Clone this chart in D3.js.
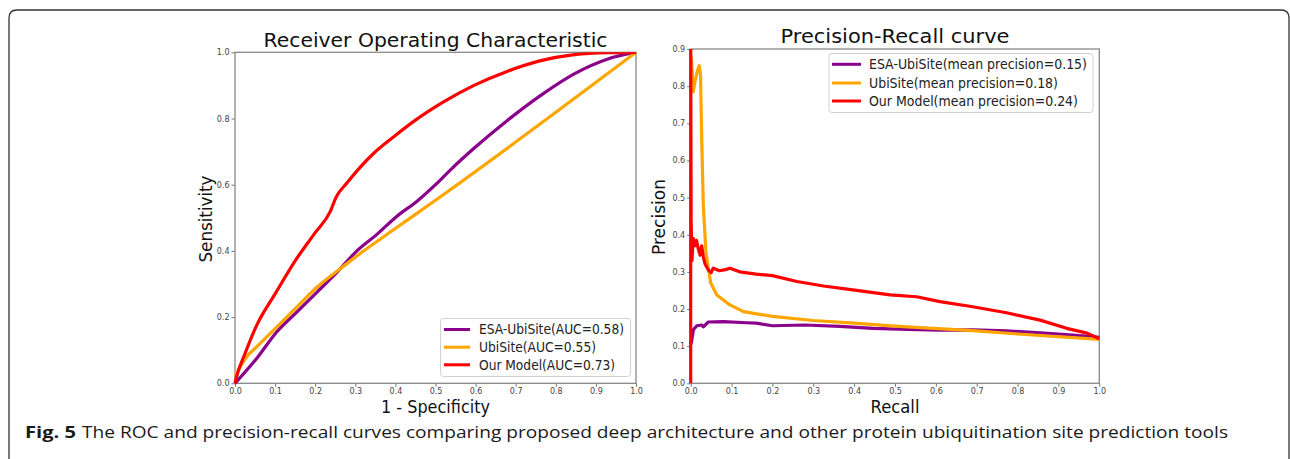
<!DOCTYPE html>
<html>
<head>
<meta charset="utf-8">
<script src="https://cdn.jsdelivr.net/npm/d3@7"></script>
<style>
  body { margin: 0; background: #fff; }
  svg { display: block; font-family: "DejaVu Sans", sans-serif; }
  .axis path { display: none; }
  .axis line { stroke: #555; stroke-width: 0.8; }
  .axis text { fill: #444; font-size: 8px; font-family: "DejaVu Sans", sans-serif; }
  .frame { fill: none; stroke: #888; stroke-width: 1.3; }
  .curve { fill: none; stroke-width: 3.2; stroke-linejoin: round; }
</style>
</head>
<body>
<svg width="1290" height="459"></svg>
<script>
const seriesNames = ["ESA-UbiSite", "UbiSite", "Our Model"];
const seriesColors = ["#8b008b", "#ffa500", "#ff0000"];
const rocLabels = ["ESA-UbiSite(AUC=0.58)", "UbiSite(AUC=0.55)", "Our Model(AUC=0.73)"];
const prLabels = ["ESA-UbiSite(mean precision=0.15)", "UbiSite(mean precision=0.18)", "Our Model(mean precision=0.24)"];

const xTicks = [0, 0.1, 0.2, 0.3, 0.4, 0.5, 0.6, 0.7, 0.8, 0.9, 1.0];
const rocYTicks = [0, 0.2, 0.4, 0.6, 0.8, 1.0];
const prYTicks = [0, 0.1, 0.2, 0.3, 0.4, 0.5, 0.6, 0.7, 0.8, 0.9];

// ROC: [1 - specificity, sensitivity]
const rocEsa = [[0,0],[0.054,0.075],[0.104,0.155],[0.154,0.215],[0.204,0.275],[0.254,0.335],[0.2625,0.346],
  [0.304,0.40],[0.354,0.45],[0.404,0.505],[0.454,0.55],[0.5,0.60],[0.5375,0.645],[0.596,0.71],[0.68,0.795],
  [0.7625,0.87],[0.846,0.935],[0.93,0.98],[1,1]];
const rocUbi = [[0,0.02],[0.029,0.08],[0.054,0.11],[0.104,0.17],[0.154,0.23],[0.204,0.29],[0.2625,0.346],
  [0.304,0.385],[0.3875,0.457],[0.5,0.553],[1,1]];
const rocOur = [[0,0],[0.004,0.02],[0.025,0.09],[0.054,0.175],[0.1,0.27],[0.15,0.37],[0.2,0.455],
  [0.238,0.52],[0.252,0.562],[0.279,0.605],[0.346,0.695],[0.396,0.745],[0.45,0.795],[0.52,0.85],
  [0.596,0.9],[0.68,0.943],[0.76,0.974],[0.846,0.993],[0.93,0.999],[1,1]];

// PR: [recall, precision]
const prEsa = [[0,0.105],[0.002,0.112],[0.0065,0.144],[0.015,0.155],[0.027,0.157],[0.031,0.152],[0.043,0.165],
  [0.08,0.166],[0.137,0.163],[0.16,0.162],[0.2,0.155],[0.28,0.157],[0.365,0.153],[0.447,0.148],[0.53,0.145],
  [0.61,0.143],[0.69,0.144],[0.773,0.141],[0.855,0.136],[0.936,0.13],[1,0.124]];
const prUbi = [[0,0.88],[0.002,0.87],[0.0065,0.785],[0.011,0.815],[0.016,0.84],[0.021,0.855],[0.024,0.83],
  [0.027,0.655],[0.031,0.476],[0.0375,0.35],[0.049,0.27],[0.064,0.238],[0.096,0.211],[0.129,0.193],[0.2,0.18],
  [0.3,0.169],[0.4,0.162],[0.5,0.154],[0.594,0.148],[0.69,0.142],[0.81,0.132],[1,0.118]];
const prOur = [[0,0],[0,0.95],[0.001,0.44],[0.003,0.33],[0.006,0.39],[0.01,0.37],[0.014,0.385],[0.019,0.36],
  [0.023,0.345],[0.027,0.37],[0.031,0.34],[0.035,0.322],[0.043,0.305],[0.05,0.298],[0.055,0.31],[0.07,0.303],
  [0.085,0.306],[0.096,0.31],[0.12,0.3],[0.16,0.294],[0.2,0.29],[0.26,0.274],[0.325,0.262],[0.406,0.25],
  [0.488,0.238],[0.553,0.233],[0.61,0.22],[0.69,0.206],[0.773,0.19],[0.855,0.17],[0.92,0.148],[0.97,0.135],[1,0.12]];

const svg = d3.select("svg");

// figure border, open at the bottom
svg.append("path")
  .attr("d", "M9,470 L9,18 Q9,10 17,10 L1281,10 Q1289,10 1289,18 L1289,470")
  .attr("fill", "none").attr("stroke", "#333").attr("stroke-width", 1.3);

function fitText(sel, w) {
  sel.attr("textLength", w).attr("lengthAdjust", "spacingAndGlyphs");
}

function panel(o) {
  const x = d3.scaleLinear().domain([0, 1]).range([o.left, o.right]);
  const y = d3.scaleLinear().domain([0, o.ymax]).range([o.bottom, o.top]);
  const g = svg.append("g");
  const id = "clip" + o.id;
  svg.append("clipPath").attr("id", id).append("rect")
    .attr("x", o.left - 2).attr("y", o.top).attr("width", o.right - o.left + 4).attr("height", o.bottom - o.top + 2);

  g.append("g").attr("class", "axis").attr("transform", `translate(0,${o.bottom})`)
    .call(d3.axisBottom(x).tickValues(xTicks).tickFormat(d3.format(".1f")).tickSize(3.5).tickPadding(2));
  g.append("g").attr("class", "axis").attr("transform", `translate(${o.left},0)`)
    .call(d3.axisLeft(y).tickValues(o.yTicks).tickFormat(d3.format(".1f")).tickSize(3.5).tickPadding(2));

  g.append("rect").attr("class", "frame")
    .attr("x", o.left).attr("y", o.top).attr("width", o.right - o.left).attr("height", o.bottom - o.top);

  const curves = g.append("g").attr("clip-path", `url(#${id})`);
  o.data.forEach((d, i) => {
    const line = d3.line().x(p => x(p[0])).y(p => y(p[1])).curve(o.curve || d3.curveLinear);
    curves.append("path").attr("class", "curve").attr("d", line(d)).attr("stroke", seriesColors[i]);
  });

  // title and axis labels
  g.append("text").attr("x", (o.left + o.right) / 2).attr("y", o.titleY)
    .attr("text-anchor", "middle").attr("font-size", 20).attr("fill", "#111")
    .text(o.title).call(fitText, o.titleW);
  g.append("text").attr("x", (o.left + o.right) / 2).attr("y", 413)
    .attr("text-anchor", "middle").attr("font-size", 17.5).attr("fill", "#111")
    .text(o.xLabel).call(fitText, o.xLabelW);
  g.append("text").attr("transform", `translate(${o.yLabelX},${o.yLabelY}) rotate(-90)`)
    .attr("text-anchor", "middle").attr("font-size", 17.5).attr("fill", "#111")
    .text(o.yLabel).call(fitText, o.yLabelW);

  // legend
  const L = o.legend;
  g.append("rect").attr("x", L.x).attr("y", L.y).attr("width", L.w).attr("height", L.h)
    .attr("rx", 3).attr("fill", "#fff").attr("fill-opacity", 0.85)
    .attr("stroke", "#d0d0d0").attr("stroke-width", 1);
  o.labels.forEach((t, i) => {
    const cy = L.rowY[i];
    g.append("line").attr("x1", L.lineX0).attr("x2", L.lineX1).attr("y1", cy).attr("y2", cy)
      .attr("stroke", seriesColors[i]).attr("stroke-width", 3);
    g.append("text").attr("x", L.textX).attr("y", cy + 4.8).attr("font-size", 13.5).attr("fill", "#222")
      .text(t).call(fitText, L.textW[i]);
  });
}

panel({
  id: "roc", left: 235, right: 636, top: 52.3, bottom: 383.3, ymax: 1.0, yTicks: rocYTicks,
  data: [rocEsa, rocUbi, rocOur], curve: d3.curveMonotoneX,
  title: "Receiver Operating Characteristic", titleY: 46.5, titleW: 344,
  xLabel: "1 - Specificity", xLabelW: 109,
  yLabel: "Sensitivity", yLabelX: 212, yLabelY: 219, yLabelW: 87,
  labels: rocLabels,
  legend: { x: 440.5, y: 318.5, w: 190, h: 58, rowY: [329.5, 347.2, 364.8],
            lineX0: 444, lineX1: 470, textX: 479, textW: [145, 117, 136] }
});

panel({
  id: "pr", left: 690.7, right: 1099.3, top: 49, bottom: 383.3, ymax: 0.9, yTicks: prYTicks,
  data: [prEsa, prUbi, prOur],
  title: "Precision-Recall curve", titleY: 43, titleW: 229,
  xLabel: "Recall", xLabelW: 49,
  yLabel: "Precision", yLabelX: 665, yLabelY: 217, yLabelW: 76,
  labels: prLabels,
  legend: { x: 829, y: 53.5, w: 264, h: 59, rowY: [64.3, 83, 101],
            lineX0: 832, lineX1: 861, textX: 869, textW: [218, 189, 209] }
});

// caption
const cap = svg.append("text").attr("y", 437.5).attr("font-family", "'Open Sans', sans-serif")
  .attr("font-size", 16).attr("fill", "#1a1a1a");
cap.append("tspan").attr("x", 25).attr("font-weight", "bold").text("Fig. 5").call(fitText, 51);
cap.append("tspan").attr("x", 82)
  .text("The ROC and precision-recall curves comparing proposed deep architecture and other protein ubiquitination site prediction tools")
  .call(fitText, 1146);
</script>
</body>
</html>
